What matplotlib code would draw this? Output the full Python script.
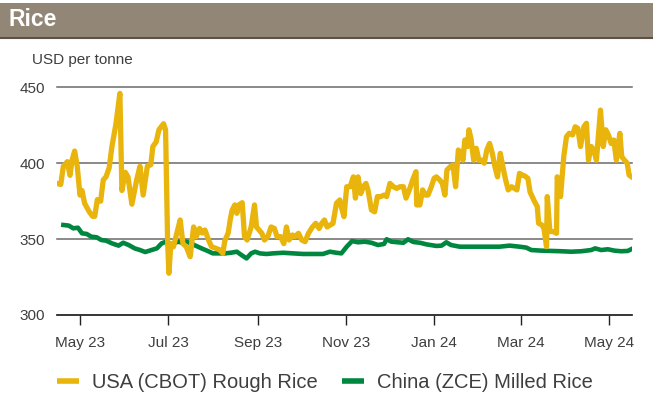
import matplotlib
matplotlib.use("Agg")
import matplotlib.pyplot as plt
import matplotlib.dates as mdates
from matplotlib.patches import Rectangle
from matplotlib.lines import Line2D
import pandas as pd

# days since 1 May 2023
usa_days = [-16.1, -13.3, -11.5, -8.8, -6.9, -5.5, -3.7, -1.9, 0, 1.4, 3.2, 6.4, 8.8, 10.2, 12, 14.3,
            16.1, 18, 20.2, 22.1, 24.9, 27.6, 29, 31.3, 33.2, 35.9, 39.2, 41.5, 43.7, 46.6, 49, 50.4,
            52.7, 54.6, 57.8, 59.2, 60.6, 61.5, 62.9, 64.7, 67, 69.3, 71.2, 73.5, 76.2, 78.6, 80.4,
            82.7, 84.5, 86.4, 89.1, 91, 93.8, 96.5, 98.8, 100.2, 102.5, 103.9, 105.2, 107.1, 108.5,
            109.9, 112.2, 113.8, 115.6, 118.4, 120.7, 122.1, 123.9, 125.8, 127.6, 129.9, 132.2, 134.5,
            136.3, 138.7, 141, 142.8, 144.6, 147, 148.8, 151.1, 153.4, 155.7, 158, 160.8, 163.1, 165.4,
            167.2, 169.1, 170.9, 173.2, 175, 177.4, 179.7, 180.8, 182.6, 184.5, 186.8, 189.1, 190.5,
            192.3, 194.2, 196, 197.8, 199.2, 201.6, 203.8, 205.7, 208, 210.3, 212.1, 214.4, 216.8, 219,
            221.3, 223.7, 225.5, 227.8, 230.1, 232.4, 232.9, 235.1, 237, 238.9, 240.7, 243, 244.9,
            246.5, 248.8, 250.6, 252.4, 253.8, 256.1, 258, 259.8, 261.7, 263.5, 264.9, 266.2, 268.1,
            269, 270.4, 272.3, 274.1, 275.9, 277.8, 279.6, 281.4, 283.3, 285.2, 287, 288.8, 290.7,
            292.5, 294.4, 296.2, 298.5, 300.4, 302.2, 304, 305.9, 307.8, 309.8, 311.3, 314.4, 316.3,
            317.2, 319.5, 320.9, 322.7, 323.2, 325, 327.3, 329.6, 330.1, 332.4, 334.6, 336.5, 338.4,
            340.7, 342.5, 344.3, 346.2, 348.5, 350.3, 351.7, 353.6, 355.4, 357.2, 360, 361.9, 363.7,
            365.5, 367.4, 369.2, 371, 373.4, 374.7, 376.6, 378.5, 379.8, 381.6]
usa_price = [386.7, 386, 398, 401, 392, 402, 408, 398, 379, 382, 373.6, 368, 365, 365, 376, 375,
             389, 391, 397, 411, 426, 446, 382, 394, 391, 373, 389, 398, 379, 398, 399, 411,
             414, 422, 426, 422, 349, 327.5, 347, 345, 354, 362.6, 347, 345, 338.4, 358, 351.6,
             357, 354, 356, 349, 345, 344, 343, 340.6, 349, 354, 362.6, 369, 372.5, 367,
             372.5, 374, 351.6, 349.4, 358, 372.5, 358, 356, 353.8, 349.4, 351.6, 358, 357,
             351.6, 351.6, 347, 358, 349.4, 352.7, 351.6, 353.8, 349.4, 348.3, 353.8, 358, 360.4, 357,
             360.4, 362.6, 358, 359.3, 360.4, 373.6, 375.8, 371, 364.8, 384.5, 384.5, 391, 377,
             391, 380, 384.5, 386.7, 382.4, 369.2, 368, 378, 378, 379, 378, 386.7, 384.5, 383.4,
             384.5, 384.5, 377, 382.4, 389, 394.4, 372.5, 372.5, 382.4, 379, 379, 384.5, 390,
             391, 389, 386.7, 379, 395.5, 397.7, 398.8, 384.5, 408.7, 406.5, 402, 415.3, 411,
             422, 416.4, 402, 409.8, 402, 402, 400, 408.7, 413, 406.5, 397.7, 391, 406.5,
             397.7, 389, 382.4, 384.5, 383.4, 382.4, 393.3, 392.2, 391.5, 390, 381, 374.7, 371.4,
             360.4, 359.3, 357, 345, 378, 355, 355, 353.8, 391, 378, 404.3, 417.5, 419.7,
             418.6, 424, 423, 411, 424, 426.3, 402, 411, 408.7, 402, 435, 411, 422,
             418.6, 413, 415.3, 402, 419.7, 404.3, 402, 400, 392.2, 391]

china_days = [-11.5, -7.8, -4.6, -1.4, 1.4, 4.6, 7.8, 11.5, 14.7, 18, 22.1, 26.7, 29.9, 33.7, 37.8,
              41.5, 45.1, 49.5, 53.2, 56.5, 59.6, 62, 64.7, 67.9, 70.7, 73.5, 76.7, 79.9, 84.1, 87.8,
              91.9, 96, 100.2, 104.3, 108.5, 111.7, 115.2, 118.4, 121.1, 124.4, 129, 133.6, 140.5,
              147.4, 154.3, 161.2, 168.1, 172.8, 177.4, 180.8, 184.5, 188.2, 192.3, 197, 201.6,
              206.1, 210.3, 212.1, 215.4, 219.9, 223.7, 226.9, 230.6, 235.1, 239.8, 246.5, 250.1,
              253.4, 256.6, 262.6, 269.5, 276.4, 283.3, 290.2, 297.1, 304, 308.7, 312.1, 319, 325.9,
              332.9, 339.8, 346.7, 353.6, 356.3, 360.5, 365.1, 369.7, 374.3, 378.9, 381.2]
china_price = [359.3, 358.9, 357.1, 357.5, 353.8, 353.4, 351.6, 351.2, 349.4, 349, 347.2, 345.7, 347.6,
               346.1, 343.9, 342.8, 341.5, 342.8, 343.9, 347.2, 348.3, 346.1, 347.2, 348.3, 347.6,
               348.3, 347.2, 345.7, 343.9, 342.4, 340.6, 340.6, 340.6, 341, 341.7, 339.5, 337.3,
               340.6, 341.7, 340.6, 340.2, 340.6, 341, 340.6, 340.2, 340.2, 340.2, 341.7, 341, 340.6,
               345, 348.7, 347.9, 348.3, 347.6, 346.1, 346.8, 349.9, 348.3, 347.9, 347.6, 349.9,
               348.1, 347.6, 346.5, 345.5, 345.7, 347.9, 346.1, 345, 345, 345, 345, 345, 345.7, 345,
               344.4, 342.8, 342.4, 342.2, 342, 341.7, 342, 342.8, 343.9, 342.8, 343.3, 342.4, 342,
               342.2, 343.3]

series_names = ["USA (CBOT) Rough Rice", "China (ZCE) Milled Rice"]
y_ticks = [300, 350, 400, 450]

base = pd.Timestamp("2023-05-01")
usa_x = base + pd.to_timedelta(usa_days, unit="D")
china_x = base + pd.to_timedelta(china_days, unit="D")

plt.rcParams["font.family"] = ["Liberation Sans", "DejaVu Sans"]
yellow = "#E9B40C"
green = "#00873F"
text_col = "#3f3f3f"

W, H = 653, 403
fig = plt.figure(figsize=(W / 100, H / 100), dpi=100)

# title banner
fig.patches.append(Rectangle((0, 1 - 37 / H), 1, 34 / H, transform=fig.transFigure,
                             facecolor="#928777", edgecolor="none"))
fig.lines.append(Line2D([0, 1], [1 - 38 / H, 1 - 38 / H], transform=fig.transFigure,
                        color="#5b5247", lw=1.5))
fig.text(9 / W, 1 - 20 / H, "Rice", color="white", fontsize=16.5, fontweight="bold",
         va="center", ha="left")

left, right, top, bottom = 56.7, 631.7, 87.3, 315
ax = fig.add_axes([left / W, 1 - bottom / H, (right - left) / W, (bottom - top) / H])

ax.plot(china_x, china_price, color=green, lw=3.3, zorder=3, label=series_names[1])
ax.plot(usa_x, usa_price, color=yellow, lw=3.8, zorder=4, label=series_names[0])

ax.set_ylim(300, 450)
ax.set_xlim(base + pd.Timedelta(days=-16.1), base + pd.Timedelta(days=381.6))
ax.set_yticks(y_ticks)
ax.xaxis.set_major_locator(mdates.MonthLocator(bymonth=[1, 3, 5, 7, 9, 11]))
ax.xaxis.set_major_formatter(mdates.DateFormatter("%b %y"))

for s in ["top", "left", "right"]:
    ax.spines[s].set_visible(False)
ax.spines["bottom"].set_color("#222222")
ax.spines["bottom"].set_linewidth(1.1)

ax.grid(axis="y", color="#6a6a6a", lw=1.1)
ax.grid(axis="x", visible=False)
for gl in ax.get_ygridlines():
    gl.set_clip_on(False)
ax.set_axisbelow(True)

ax.tick_params(axis="y", length=0, pad=8.5, labelsize=11, labelcolor=text_col)
ax.tick_params(axis="x", length=7, width=1, color="#222222", pad=8, labelsize=11,
               labelcolor=text_col)

fig.text(32 / W, 1 - 60 / H, "USD per tonne", fontsize=11, color=text_col, va="center",
         ha="left")

handles, labels = ax.get_legend_handles_labels()
leg = fig.legend(handles[::-1], labels[::-1], loc="center left",
                 bbox_to_anchor=(57 / W, 1 - 383 / H), bbox_transform=fig.transFigure,
                 ncol=2, frameon=False, fontsize=14.5, handlelength=1.1, handletextpad=0.65,
                 columnspacing=1.2, borderpad=0, borderaxespad=0)
for t in leg.get_texts():
    t.set_color(text_col)
for h in leg.legend_handles:
    h.set_linewidth(4)
    h.set_solid_capstyle("butt")

fig.savefig("out.png", dpi=100)
